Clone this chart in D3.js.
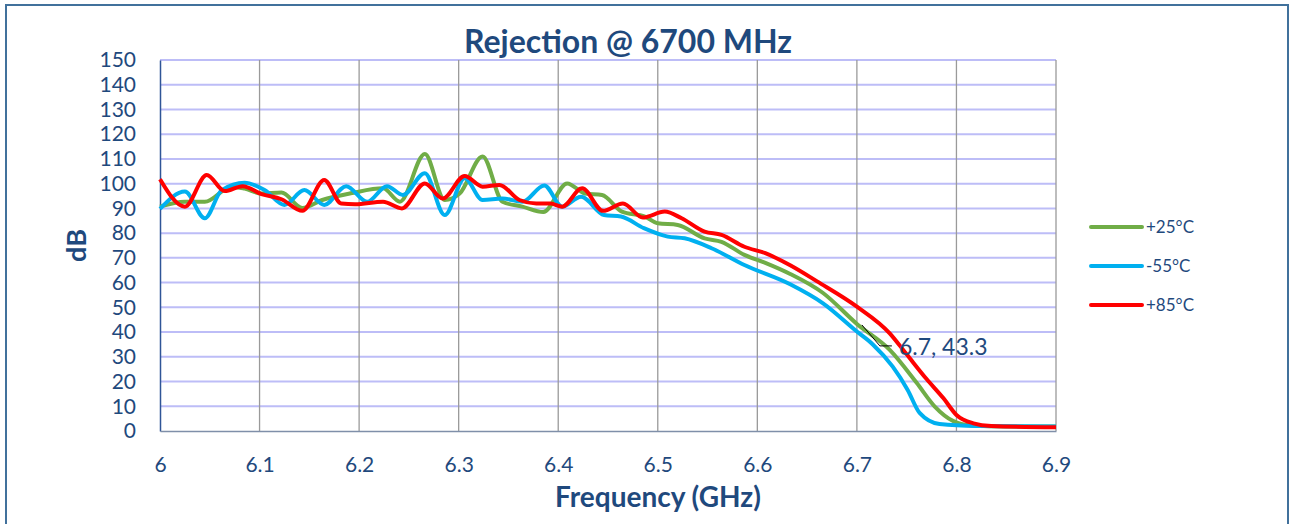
<!DOCTYPE html>
<html>
<head>
<meta charset="utf-8">
<script src="https://cdn.jsdelivr.net/npm/d3@7"></script>
<style>
  body { margin: 0; background: #fff; }
  svg text { font-family: Lato, "Open Sans", sans-serif; fill: #1F497D; }
</style>
</head>
<body>
<div id="chart"></div>
<script>
// data
var yTicks = [0, 10, 20, 30, 40, 50, 60, 70, 80, 90, 100, 110, 120, 130, 140, 150];
var xTicks = [6, 6.1, 6.2, 6.3, 6.4, 6.5, 6.6, 6.7, 6.8, 6.9];

var freq25 = [6.000, 6.025, 6.045, 6.072, 6.085, 6.102, 6.122, 6.143, 6.163, 6.193, 6.224, 6.241, 6.266, 6.286, 6.301, 6.324, 6.344, 6.364, 6.385, 6.409, 6.427, 6.444, 6.464, 6.487, 6.500, 6.520, 6.547, 6.564, 6.587, 6.608, 6.633, 6.666, 6.700, 6.733, 6.760, 6.778, 6.797, 6.816, 6.850, 6.900];
var db25   = [90.7, 92.7, 92.7, 98.8, 98.0, 96.0, 96.4, 90.2, 93.4, 96.2, 98.1, 92.7, 112.0, 93.4, 96.0, 111.0, 92.7, 90.7, 88.5, 100.1, 96.0, 95.4, 88.7, 86.7, 84.0, 83.3, 77.9, 76.5, 71.2, 68.0, 63.5, 55.8, 43.3, 32.8, 19.5, 10.0, 4.0, 2.2, 1.8, 1.8];

var freq55 = [6.000, 6.025, 6.045, 6.062, 6.085, 6.105, 6.125, 6.145, 6.165, 6.187, 6.208, 6.228, 6.244, 6.266, 6.286, 6.306, 6.324, 6.344, 6.364, 6.386, 6.404, 6.423, 6.446, 6.463, 6.486, 6.510, 6.527, 6.554, 6.587, 6.633, 6.666, 6.700, 6.716, 6.736, 6.751, 6.763, 6.783, 6.820, 6.900];
var db55   = [89.8, 96.8, 86.0, 97.4, 100.4, 97.4, 91.4, 97.4, 91.4, 99.0, 92.7, 99.0, 95.4, 104.2, 87.3, 102.2, 93.4, 94.0, 92.7, 99.3, 90.7, 94.7, 87.3, 86.7, 82.0, 78.6, 77.9, 73.9, 67.1, 59.3, 51.6, 40.2, 35.0, 26.0, 16.6, 7.3, 2.8, 2.0, 1.8];

var freq85 = [6.000, 6.025, 6.047, 6.065, 6.083, 6.102, 6.122, 6.143, 6.165, 6.182, 6.196, 6.224, 6.243, 6.266, 6.284, 6.306, 6.324, 6.341, 6.361, 6.378, 6.392, 6.404, 6.424, 6.445, 6.465, 6.485, 6.507, 6.524, 6.547, 6.564, 6.587, 6.608, 6.633, 6.660, 6.700, 6.733, 6.750, 6.770, 6.787, 6.800, 6.817, 6.835, 6.900];
var db85   = [101.8, 90.7, 103.5, 97.0, 99.0, 95.8, 93.7, 89.0, 101.5, 92.0, 91.7, 92.7, 90.0, 100.1, 94.0, 103.1, 98.8, 99.5, 93.4, 92.0, 92.0, 90.7, 98.1, 89.0, 92.0, 86.3, 88.7, 86.0, 80.6, 79.3, 74.5, 71.9, 67.0, 60.5, 50.3, 39.5, 31.0, 21.0, 13.2, 6.5, 3.1, 2.0, 1.5];

var seriesNames = ["+25°C", "-55°C", "+85°C"];
var seriesColors = ["#70AD47", "#00B0F0", "#FF0000"];

var labelFreq = 6.7, labelDb = 43.3;

var width = 1292, height = 524;
var margin = {left: 160, right: 236, top: 60, bottom: 93};

var svg = d3.select("#chart").append("svg").attr("width", width).attr("height", height);

// outer frame
svg.append("rect")
    .attr("x", 6).attr("y", 5).attr("width", 1282).attr("height", 540)
    .attr("fill", "none").attr("stroke", "#41719C").attr("stroke-width", 2);

var x = d3.scaleLinear().domain([6, 6.9]).range([margin.left, width - margin.right]);
var y = d3.scaleLinear().domain([0, 150]).range([height - margin.bottom, margin.top]);

// horizontal grid
svg.append("g")
  .selectAll("line")
  .data(yTicks.slice(1))
  .enter().append("line")
    .attr("x1", x(6)).attr("x2", x(6.9))
    .attr("y1", function(d) { return y(d); })
    .attr("y2", function(d) { return y(d); })
    .attr("stroke", "#BDBDF7").attr("stroke-width", 2);

// vertical grid
svg.append("g")
  .selectAll("line")
  .data(xTicks.slice(1))
  .enter().append("line")
    .attr("x1", function(d) { return x(d); })
    .attr("x2", function(d) { return x(d); })
    .attr("y1", y(0)).attr("y2", y(150))
    .attr("stroke", "#9A9A9A").attr("stroke-width", 1.3);

// axes
var yAxis = d3.axisLeft(y).tickValues(yTicks).tickSize(0).tickPadding(24).tickFormat(d3.format("d"));
var gy = svg.append("g").attr("transform", "translate(" + x(6) + ",0)").call(yAxis);
gy.select(".domain").attr("stroke", "#2F5597").attr("stroke-width", 1.5);
gy.selectAll("text").attr("font-size", 21).attr("fill", "#1F497D").style("font-family", "Lato");

var xAxis = d3.axisBottom(x).tickValues(xTicks).tickSize(0).tickPadding(26).tickFormat(function(d) { return d3.format("")(+d.toFixed(1)); });
var gx = svg.append("g").attr("transform", "translate(0," + y(0) + ")").call(xAxis);
gx.select(".domain").attr("stroke", "#7F8FA9").attr("stroke-width", 1.5);
gx.selectAll("text").attr("font-size", 21).attr("fill", "#1F497D").style("font-family", "Lato");

// lines
var line = d3.line()
    .x(function(d) { return x(d[0]); })
    .y(function(d) { return y(d[1]); })
    .curve(d3.curveMonotoneX);

var allSeries = [d3.zip(freq25, db25), d3.zip(freq55, db55), d3.zip(freq85, db85)];

svg.append("g")
  .selectAll("path")
  .data(allSeries)
  .enter().append("path")
    .attr("d", line)
    .attr("fill", "none")
    .attr("stroke", function(d, i) { return seriesColors[i]; })
    .attr("stroke-width", 4)
    .attr("stroke-linejoin", "round");

// data label with leader line
var lx = x(labelFreq), ly = y(labelDb);
svg.append("path")
    .attr("d", "M" + (lx + 5) + "," + (ly + 1) + "L" + (lx + 23) + "," + (ly + 22) + "L" + (lx + 35) + "," + (ly + 22))
    .attr("fill", "none").attr("stroke", "#000").attr("stroke-width", 1);
svg.append("text")
    .attr("x", lx + 42).attr("y", ly + 31)
    .attr("font-size", 23)
    .text(labelFreq + ", " + labelDb);

// title
svg.append("text")
    .attr("x", 628).attr("y", 53)
    .attr("text-anchor", "middle")
    .attr("font-size", 32).attr("font-weight", "bold")
    .text("Rejection @ 6700 MHz");

// axis titles
svg.append("text")
    .attr("transform", "translate(86," + y(75) + ") rotate(-90)")
    .attr("text-anchor", "middle")
    .attr("font-size", 27).attr("font-weight", "bold")
    .text("dB");

svg.append("text")
    .attr("x", 658).attr("y", 507)
    .attr("text-anchor", "middle")
    .attr("font-size", 28).attr("font-weight", "bold")
    .text("Frequency (GHz)");

// legend
var legend = svg.append("g").selectAll("g")
  .data(seriesNames)
  .enter().append("g")
    .attr("transform", function(d, i) { return "translate(1091," + (227 + i * 39) + ")"; });
legend.append("line")
    .attr("x1", 0).attr("x2", 51)
    .attr("stroke", function(d, i) { return seriesColors[i]; })
    .attr("stroke-width", 4).attr("stroke-linecap", "round");
legend.append("text")
    .attr("x", 55).attr("y", 6)
    .attr("font-size", 17)
    .text(function(d) { return d; });
</script>
</body>
</html>
